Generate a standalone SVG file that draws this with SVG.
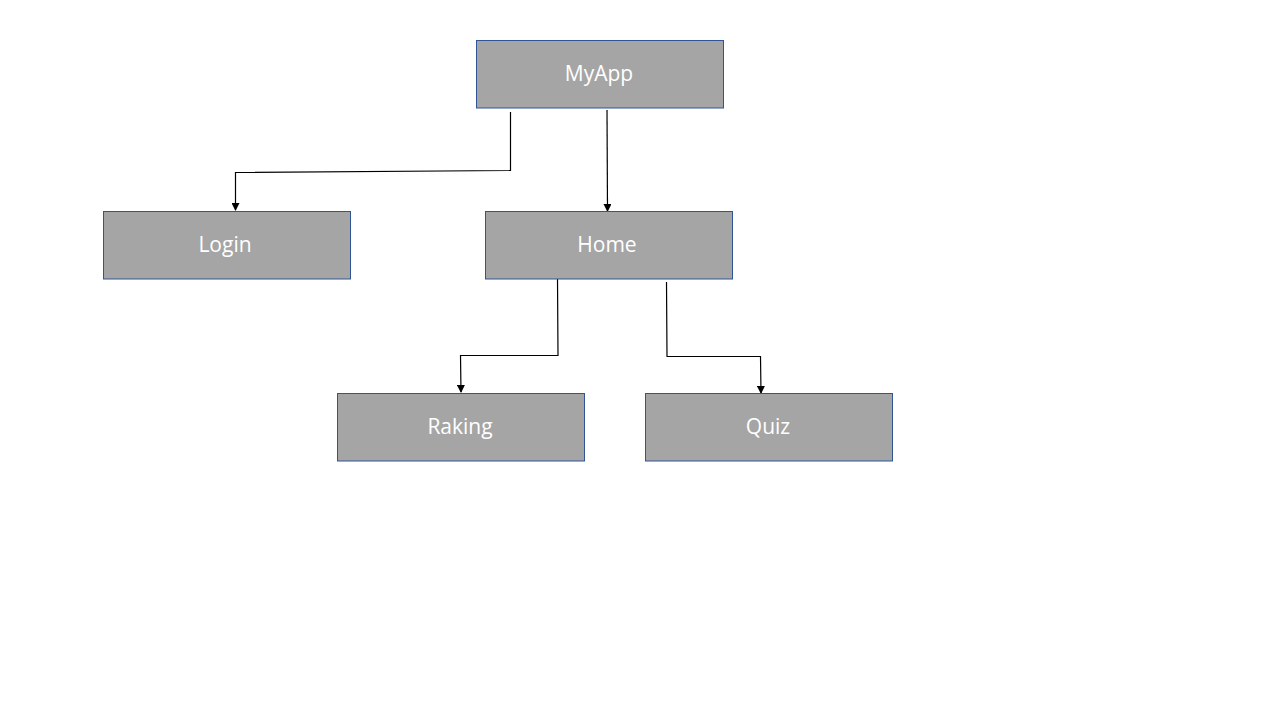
<svg xmlns="http://www.w3.org/2000/svg" width="1280" height="720" viewBox="0 0 1280 720">
<style>
.box{fill:#A5A5A5;stroke:#2F5597;stroke-width:1}
.lbl{font-family:"Open Sans","Liberation Sans",sans-serif;font-size:21px;fill:#FFFFFF;text-anchor:middle;dominant-baseline:central}
.con{fill:none;stroke:#000;stroke-width:1.2;marker-end:url(#arr)}
</style>
<defs>
<marker id="arr" markerWidth="8" markerHeight="8" refX="7" refY="4" orient="auto" markerUnits="userSpaceOnUse">
<path d="M0,0 L8,4 L0,8 Z" fill="#000"/>
</marker>
</defs>
<rect width="1280" height="720" fill="#fff"/>
<g id="connectors">
<path class="con" d="M510.5,112 V170.5 L235.5,172.5 V210"/>
<path class="con" d="M607,110 L607.5,211"/>
<path class="con" d="M557.5,279 L558,355.5 H460.5 L461,392"/>
<path class="con" d="M666.5,282 L667,356.5 H760.5 L761,393"/>
</g>
<g id="node-myapp"><rect class="box" x="476.5" y="40.5" width="247" height="67.5"/><text class="lbl" x="599" y="73">MyApp</text></g>
<g id="node-login"><rect class="box" x="103.5" y="211.5" width="247" height="67.5"/><text class="lbl" x="225" y="244">Login</text></g>
<g id="node-home"><rect class="box" x="485.5" y="211.5" width="247" height="67.5"/><text class="lbl" x="607" y="244">Home</text></g>
<g id="node-raking"><rect class="box" x="337.5" y="393.5" width="247" height="67.5"/><text class="lbl" x="460" y="426">Raking</text></g>
<g id="node-quiz"><rect class="box" x="645.5" y="393.5" width="247" height="67.5"/><text class="lbl" x="768" y="426">Quiz</text></g>
</svg>
